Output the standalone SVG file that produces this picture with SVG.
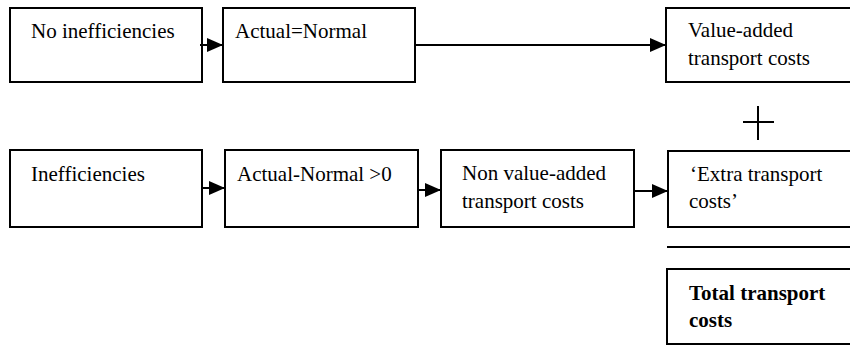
<svg xmlns="http://www.w3.org/2000/svg" width="850" height="345" viewBox="0 0 850 345">
<style>
.box{fill:#fff;stroke:#000;stroke-width:2}
.t{font-family:"Liberation Serif","Times New Roman",serif;font-size:21px;fill:#000}
.b{font-weight:bold}
.c{stroke:#000;stroke-width:2;fill:none}
</style>
<defs>
<marker id="ah" markerWidth="8" markerHeight="7" refX="8" refY="3.5" orient="auto" markerUnits="strokeWidth">
<path d="M0,0 L8,3.5 L0,7 z" fill="#000"/>
</marker>
</defs>
<rect width="850" height="345" fill="#fff"/>
<g id="n1"><rect class="box" x="10" y="8" width="192" height="74"/><text class="t" x="31" y="38">No inefficiencies</text></g>
<g id="n2"><rect class="box" x="223" y="8" width="192" height="74"/><text class="t" x="235" y="38">Actual=Normal</text></g>
<g id="n3"><rect class="box" x="666" y="8" width="200" height="74"/><text class="t" x="688" y="37">Value-added</text><text class="t" x="688" y="65">transport costs</text></g>
<g id="n4"><rect class="box" x="10" y="150" width="192" height="77"/><text class="t" x="31" y="181">Inefficiencies</text></g>
<g id="n5"><rect class="box" x="225" y="150" width="193" height="77"/><text class="t" x="237" y="181">Actual-Normal &gt;0</text></g>
<g id="n6"><rect class="box" x="441" y="150" width="193" height="77"/><text class="t" x="462" y="180">Non value-added</text><text class="t" x="462" y="208">transport costs</text></g>
<g id="n7"><rect class="box" x="668" y="151" width="200" height="76"/><text class="t" x="690" y="181">‘Extra transport</text><text class="t" x="689" y="208">costs’</text></g>
<g id="n8"><rect class="box" x="667" y="269" width="200" height="75"/><text class="t b" x="689" y="300">Total transport</text><text class="t b" x="689" y="327">costs</text></g>
<g id="plus"><line class="c" x1="743" y1="122" x2="774" y2="122" stroke-width="1.5"/><line class="c" x1="758" y1="106" x2="758" y2="140" stroke-width="1.5"/></g>
<g id="sumline"><line class="c" x1="667" y1="247" x2="850" y2="247" stroke-width="2.5"/></g>
<g id="connectors">
<line class="c" x1="200" y1="45" x2="223" y2="45" marker-end="url(#ah)"/>
<line class="c" x1="415" y1="45" x2="666" y2="45" marker-end="url(#ah)"/>
<line class="c" x1="202" y1="188" x2="225" y2="188" marker-end="url(#ah)"/>
<line class="c" x1="418" y1="190" x2="441" y2="190" marker-end="url(#ah)"/>
<line class="c" x1="634" y1="191" x2="668" y2="191" marker-end="url(#ah)"/>
</g>
</svg>
